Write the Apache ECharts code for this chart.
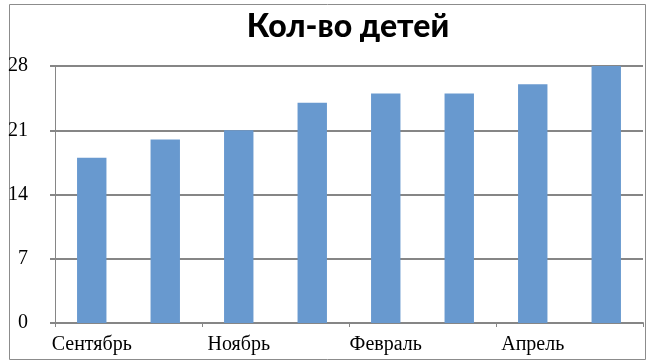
<!DOCTYPE html>
<html><head><meta charset="utf-8">
<script src="https://cdn.jsdelivr.net/npm/echarts@6/dist/echarts.min.js"></script>
<style>html,body{margin:0;padding:0;background:#fff}#c{width:650px;height:362px}</style>
</head><body><div id="c"></div>
<script>
const titleText = 'Кол-во детей';
const categories = ['Сентябрь','Октябрь','Ноябрь','Декабрь','Февраль','Март','Апрель','Май'];
const values = [18, 20, 21, 24, 25, 25, 26, 28];
const yTicks = {min: 0, max: 28, interval: 7};

const chart = echarts.init(document.getElementById('c'), null, {renderer: 'canvas'});
chart.setOption({
  animation: false,
  backgroundColor: '#fff',
  graphic: [{
    type: 'rect', left: 7, top: 2, silent: true,
    shape: {width: 636, height: 355},
    style: {fill: 'none', stroke: '#8c8c8c', lineWidth: 1}
  }, {
    type: 'text', silent: true, x: 348, y: 27,
    style: {text: titleText, align: 'center', verticalAlign: 'middle',
      font: '900 32px Lato', fill: '#000'}
  }],
  grid: {left: 55, right: 7, top: 66, bottom: 39, containLabel: false},
  xAxis: {
    type: 'category', data: categories,
    axisLine: {lineStyle: {color: '#868686', width: 2}},
    axisTick: {show: true, length: 4, lineStyle: {color: '#868686', width: 1}},
    axisLabel: {interval: 1, color: '#000', fontFamily: 'Liberation Serif', fontSize: 20, margin: 12}
  },
  yAxis: {
    type: 'value', min: yTicks.min, max: yTicks.max, interval: yTicks.interval,
    axisLine: {show: true, lineStyle: {color: '#868686', width: 1}},
    axisTick: {show: true, length: 5, lineStyle: {color: '#868686', width: 2}},
    splitLine: {lineStyle: {color: '#868686', width: 2}},
    axisLabel: {align: 'right', margin: 27, color: '#000', fontFamily: 'Liberation Serif', fontSize: 20}
  },
  series: [{
    type: 'bar', data: values, barWidth: '40%',
    itemStyle: {color: '#6899cf'}
  }]
});
</script></body></html>
